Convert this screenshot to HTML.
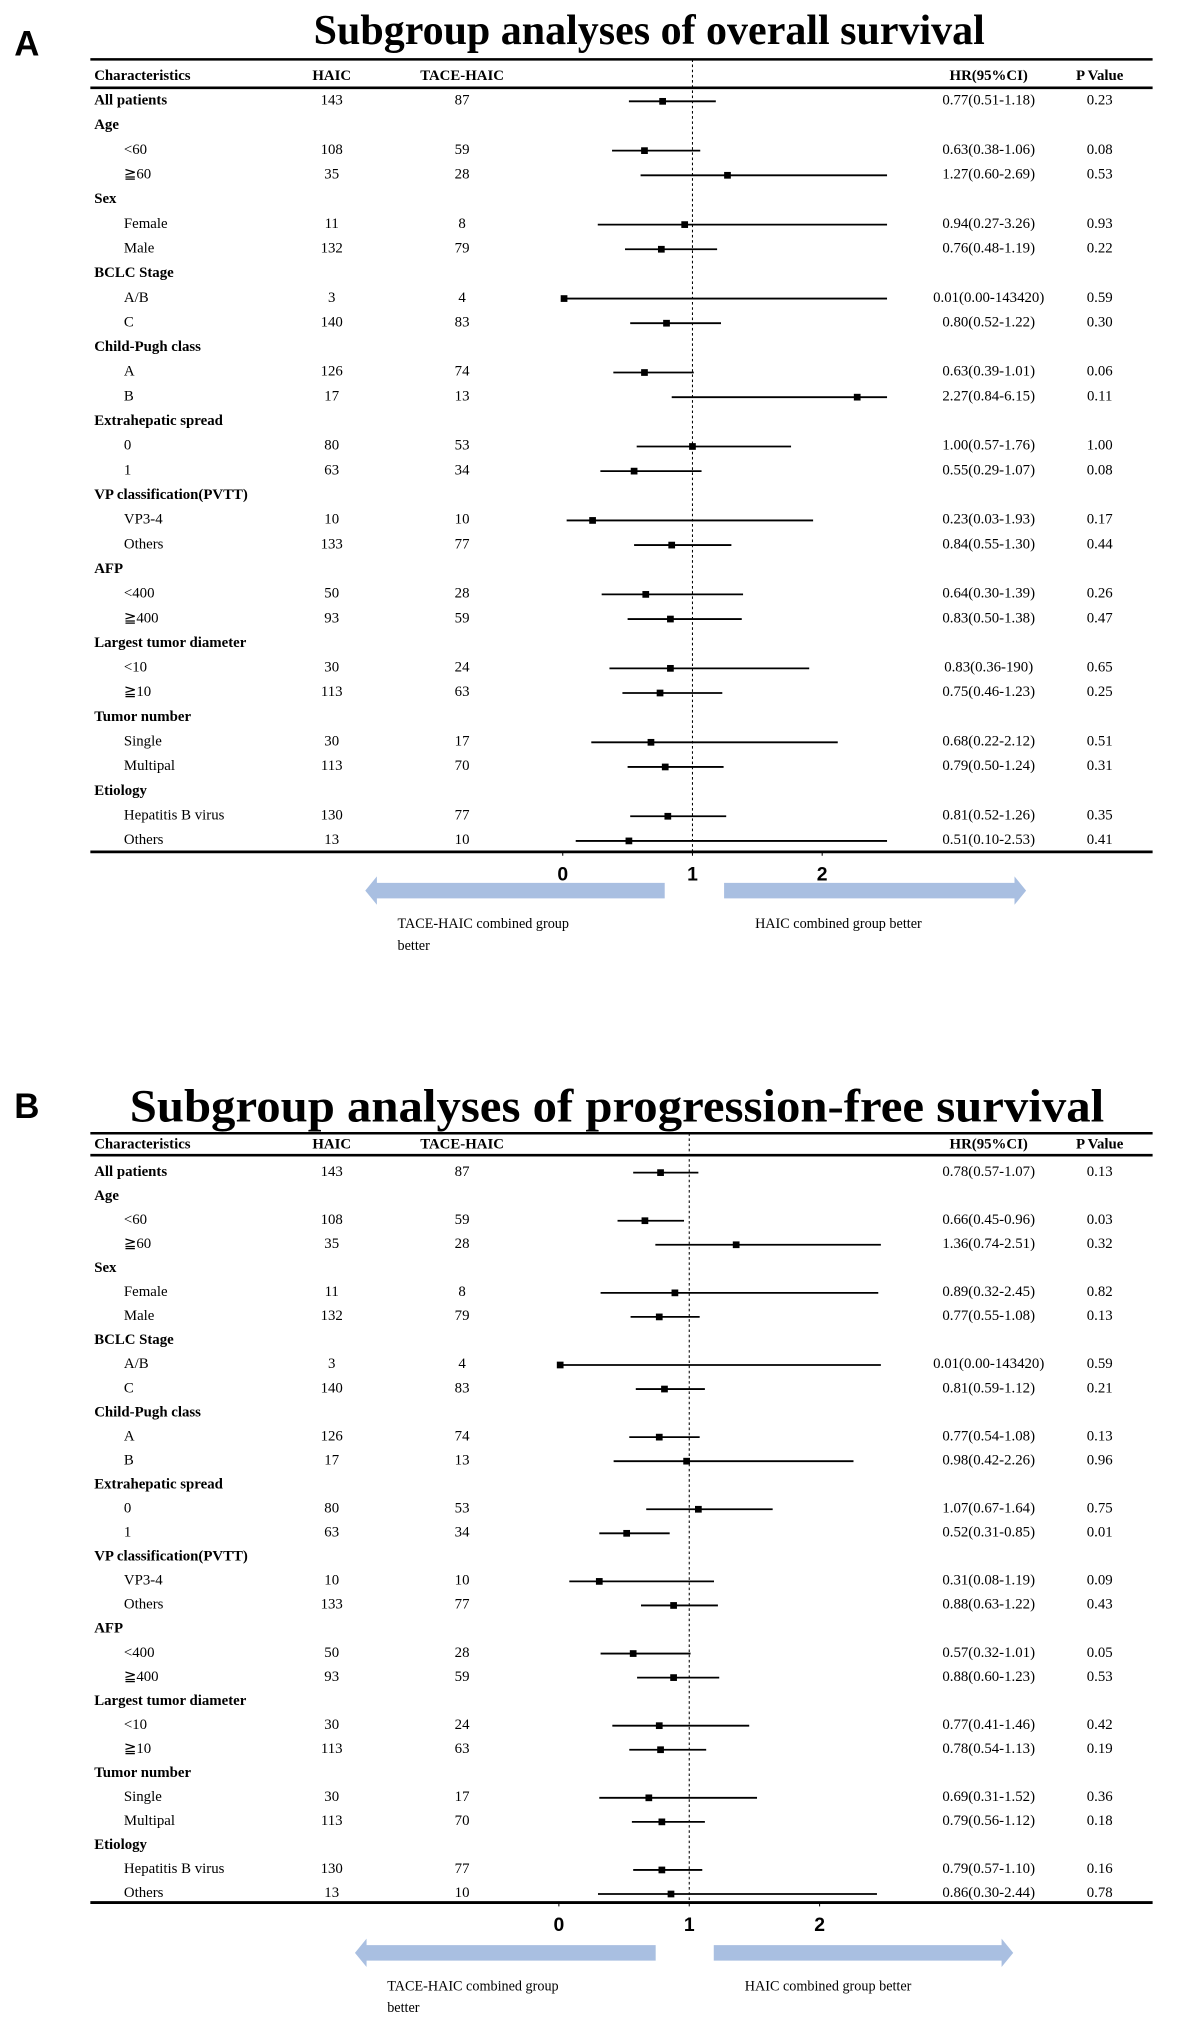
<!DOCTYPE html>
<html><head><meta charset="utf-8">
<style>
html,body{margin:0;padding:0;background:#fff;}
svg{display:block;}
text{font-family:"Liberation Serif",serif;fill:#000;}
text.sans{font-family:"Liberation Sans",sans-serif;}
</style></head>
<body>
<svg id="fig" width="1181" height="2036" viewBox="0 0 915 1577.4" xmlns="http://www.w3.org/2000/svg"></svg>
<script>
// ---- shared row structure ----
const rowLabels = ["All patients","Age","<60","≧60","Sex","Female","Male","BCLC Stage","A/B","C","Child-Pugh class","A","B","Extrahepatic spread","0","1","VP classification(PVTT)","VP3-4","Others","AFP","<400","≧400","Largest tumor diameter","<10","≧10","Tumor number","Single","Multipal","Etiology","Hepatitis B virus","Others"];
const rowIsHeader = [1,1,0,0,1,0,0,1,0,0,1,0,0,1,0,0,1,0,0,1,0,0,1,0,0,1,0,0,1,0,0];
const haicN = ["143","","108","35","","11","132","","3","140","","126","17","","80","63","","10","133","","50","93","","30","113","","30","113","","130","13"];
const taceN = ["87","","59","28","","8","79","","4","83","","74","13","","53","34","","10","77","","28","59","","24","63","","17","70","","77","10"];
const axisTicks = [0,1,2];

// ---- panel A: overall survival ----
const osHR = [0.77,null,0.63,1.27,null,0.94,0.76,null,0.01,0.80,null,0.63,2.27,null,1.00,0.55,null,0.23,0.84,null,0.64,0.83,null,0.83,0.75,null,0.68,0.79,null,0.81,0.51];
const osLo = [0.51,null,0.38,0.60,null,0.27,0.48,null,0.00,0.52,null,0.39,0.84,null,0.57,0.29,null,0.03,0.55,null,0.30,0.50,null,0.36,0.46,null,0.22,0.50,null,0.52,0.10];
const osHi = [1.18,null,1.06,2.69,null,3.26,1.19,null,143420,1.22,null,1.01,6.15,null,1.76,1.07,null,1.93,1.30,null,1.39,1.38,null,1.90,1.23,null,2.12,1.24,null,1.26,2.53];
const osHRText = ["0.77(0.51-1.18)","","0.63(0.38-1.06)","1.27(0.60-2.69)","","0.94(0.27-3.26)","0.76(0.48-1.19)","","0.01(0.00-143420)","0.80(0.52-1.22)","","0.63(0.39-1.01)","2.27(0.84-6.15)","","1.00(0.57-1.76)","0.55(0.29-1.07)","","0.23(0.03-1.93)","0.84(0.55-1.30)","","0.64(0.30-1.39)","0.83(0.50-1.38)","","0.83(0.36-190)","0.75(0.46-1.23)","","0.68(0.22-2.12)","0.79(0.50-1.24)","","0.81(0.52-1.26)","0.51(0.10-2.53)"];
const osP = ["0.23","","0.08","0.53","","0.93","0.22","","0.59","0.30","","0.06","0.11","","1.00","0.08","","0.17","0.44","","0.26","0.47","","0.65","0.25","","0.51","0.31","","0.35","0.41"];

// ---- panel B: progression-free survival ----
const pfsHR = [0.78,null,0.66,1.36,null,0.89,0.77,null,0.01,0.81,null,0.77,0.98,null,1.07,0.52,null,0.31,0.88,null,0.57,0.88,null,0.77,0.78,null,0.69,0.79,null,0.79,0.86];
const pfsLo = [0.57,null,0.45,0.74,null,0.32,0.55,null,0.00,0.59,null,0.54,0.42,null,0.67,0.31,null,0.08,0.63,null,0.32,0.60,null,0.41,0.54,null,0.31,0.56,null,0.57,0.30];
const pfsHi = [1.07,null,0.96,2.51,null,2.45,1.08,null,143420,1.12,null,1.08,2.26,null,1.64,0.85,null,1.19,1.22,null,1.01,1.23,null,1.46,1.13,null,1.52,1.12,null,1.10,2.44];
const pfsHRText = ["0.78(0.57-1.07)","","0.66(0.45-0.96)","1.36(0.74-2.51)","","0.89(0.32-2.45)","0.77(0.55-1.08)","","0.01(0.00-143420)","0.81(0.59-1.12)","","0.77(0.54-1.08)","0.98(0.42-2.26)","","1.07(0.67-1.64)","0.52(0.31-0.85)","","0.31(0.08-1.19)","0.88(0.63-1.22)","","0.57(0.32-1.01)","0.88(0.60-1.23)","","0.77(0.41-1.46)","0.78(0.54-1.13)","","0.69(0.31-1.52)","0.79(0.56-1.12)","","0.79(0.57-1.10)","0.86(0.30-2.44)"];
const pfsP = ["0.13","","0.03","0.32","","0.82","0.13","","0.59","0.21","","0.13","0.96","","0.75","0.01","","0.09","0.43","","0.05","0.53","","0.42","0.19","","0.36","0.18","","0.16","0.78"];

const NS="http://www.w3.org/2000/svg";
const svg=document.getElementById('fig');
function el(tag,attrs,parent,txt){
  const e=document.createElementNS(NS,tag);
  for(const k in attrs) e.setAttribute(k,attrs[k]);
  if(txt!==undefined) e.textContent=txt;
  (parent||svg).appendChild(e); return e;
}
function panel(cfg,hr,lo,hi,hrText,pv){
  const g=el('g',{});
  
  
  const xS=v=>cfg.x0+v*cfg.unit;
  const maxV=cfg.clip;
  let t=el('text',{class:'sans',x:11,y:cfg.letterY,'font-weight':'bold','font-size':27},g,cfg.letter);
  
  t=el('text',{x:cfg.titleX,y:cfg.titleY,'text-anchor':'middle','font-weight':'bold','font-size':cfg.titleSize,textLength:cfg.titleLen,lengthAdjust:'spacingAndGlyphs'},g,cfg.title);
  
  let l=el('line',{x1:70,x2:893,y1:cfg.top,y2:cfg.top,stroke:'#000','stroke-width':2},g);
  
  l=el('line',{x1:70,x2:893,y1:cfg.headLine,y2:cfg.headLine,stroke:'#000','stroke-width':2},g);
  
  l=el('line',{x1:70,x2:893,y1:cfg.bottom,y2:cfg.bottom,stroke:'#000','stroke-width':2.2},g);
  
  const hy=cfg.headY;
  const hdr=[["Characteristics",73,'start'],["HAIC",257,'middle'],["TACE-HAIC",358,'middle'],["HR(95%CI)",766,'middle'],["P Value",852,'middle']];
  hdr.forEach(h=>{const e=el('text',{x:h[1],y:hy,'text-anchor':h[2],'font-weight':'bold','font-size':11.5},g,h[0]);
    });
  l=el('line',{x1:xS(1),x2:xS(1),y1:cfg.top,y2:cfg.bottom,stroke:'#000','stroke-width':0.8,'stroke-dasharray':'2,2'},g);
  
  rowLabels.forEach((lab,i)=>{
    const y=cfg.row0+i*cfg.step;
    const hdrRow=rowIsHeader[i];
    const e=el('text',{x:hdrRow?73:96,y:y+4,'font-weight':hdrRow?'bold':'normal','font-size':11.5},g,lab);
    
    if(haicN[i]){const a=el('text',{x:257,y:y+4,'text-anchor':'middle','font-size':11.5},g,haicN[i]);
      }
    if(taceN[i]){const a=el('text',{x:358,y:y+4,'text-anchor':'middle','font-size':11.5},g,taceN[i]);
      }
    if(hrText[i]){const a=el('text',{x:766,y:y+4,'text-anchor':'middle','font-size':11.5},g,hrText[i]);
      }
    if(pv[i]){const a=el('text',{x:852,y:y+4,'text-anchor':'middle','font-size':11.5},g,pv[i]);
      }
    if(hr[i]!==null){
      const ly=y+1.5;
      const ci=el('line',{x1:xS(Math.min(lo[i],maxV)),x2:xS(Math.min(hi[i],maxV)),y1:ly,y2:ly,stroke:'#000','stroke-width':1.4},g);
      
      const pt=el('rect',{x:xS(hr[i])-2.6,y:ly-2.6,width:5.2,height:5.2,fill:'#000'},g);
      
    }
  });
  axisTicks.forEach(v=>{
    const tk=el('line',{x1:xS(v),x2:xS(v),y1:cfg.bottom,y2:cfg.bottom+3,stroke:'#000','stroke-width':0.8},g);
    
    const tl=el('text',{class:'sans',x:xS(v),y:cfg.bottom+22,'text-anchor':'middle','font-weight':'bold','font-size':15},g,String(v));
    
  });
  const ay=cfg.arrowY, c='#a9bfe1';
  let p=el('polygon',{points:`${cfg.la1},${ay-6} ${cfg.la0+9},${ay-6} ${cfg.la0+9},${ay-11} ${cfg.la0},${ay} ${cfg.la0+9},${ay+11} ${cfg.la0+9},${ay+6} ${cfg.la1},${ay+6}`,fill:c},g);
  
  p=el('polygon',{points:`${cfg.ra0},${ay-6} ${cfg.ra1-9},${ay-6} ${cfg.ra1-9},${ay-11} ${cfg.ra1},${ay} ${cfg.ra1-9},${ay+11} ${cfg.ra1-9},${ay+6} ${cfg.ra0},${ay+6}`,fill:c},g);
  
  t=el('text',{x:cfg.la0+25,y:ay+29,'font-size':11},g,'TACE-HAIC combined group');
  
  t=el('text',{x:cfg.la0+25,y:ay+46,'font-size':11},g,'better');
  
  t=el('text',{x:cfg.ra0+24,y:ay+29,'font-size':11},g,'HAIC combined group better');
  
}
panel({name:'panel-a-overall-survival',letter:'A',letterY:43,title:'Subgroup analyses of overall survival',titleX:503,titleY:34,titleSize:33,titleLen:520,
  top:46,headY:62,headLine:68,bottom:660,row0:77,step:19.1,x0:436,unit:100.5,clip:2.5,
  arrowY:690,la0:283,la1:515,ra0:561,ra1:795},osHR,osLo,osHi,osHRText,osP);
panel({name:'panel-b-progression-free-survival',letter:'B',letterY:866,title:'Subgroup analyses of progression-free survival',titleX:478,titleY:869,titleSize:36,titleLen:755,
  top:878,headY:890,headLine:895,bottom:1474,row0:907,step:18.63,x0:433,unit:101,clip:2.47,
  arrowY:1513,la0:275,la1:508,ra0:553,ra1:785},pfsHR,pfsLo,pfsHi,pfsHRText,pfsP);
</script>
</body></html>
